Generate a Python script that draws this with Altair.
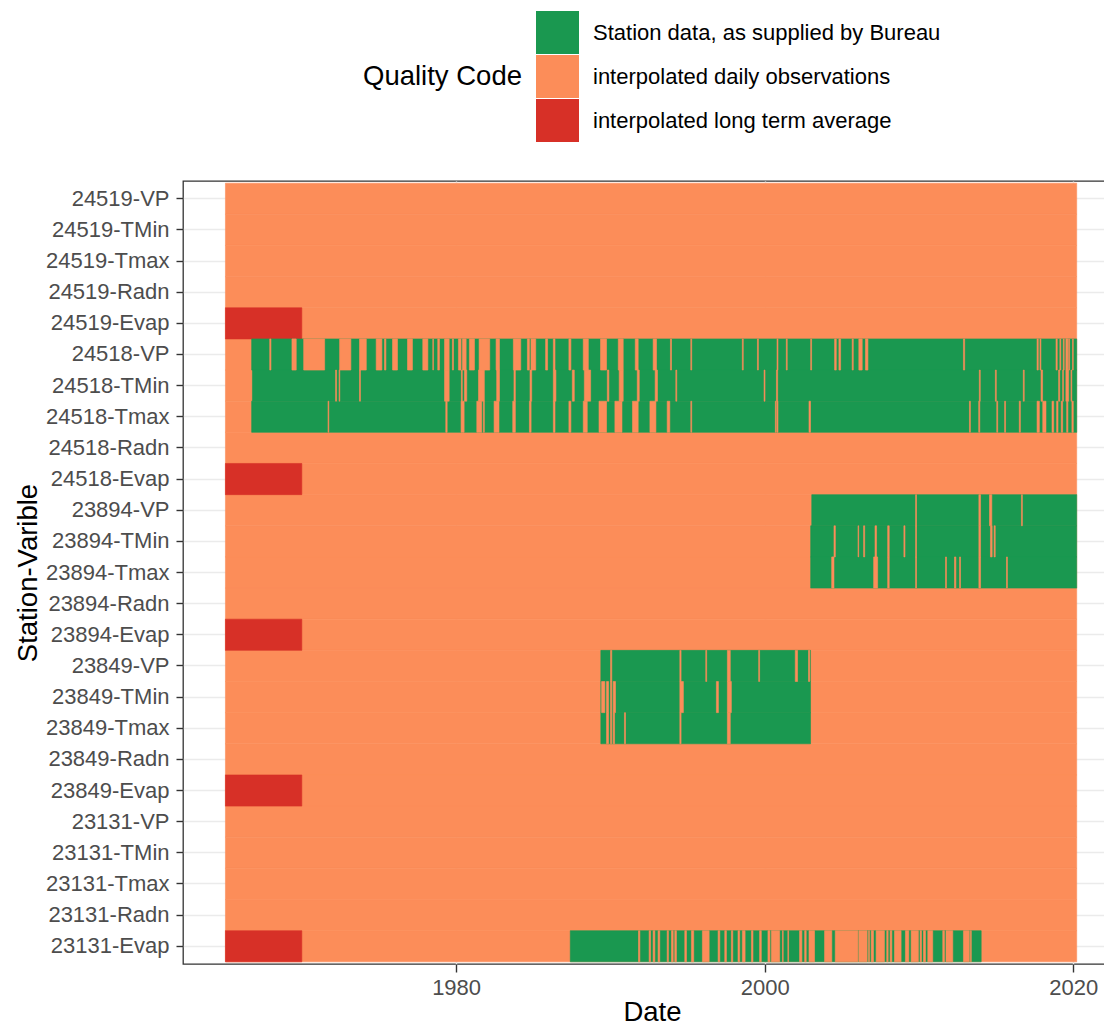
import altair as alt
import pandas as pd

STATIONS = ["24519", "24518", "23894", "23849", "23131"]
VARIABLES = ["VP", "TMin", "Tmax", "Radn", "Evap"]
ROWS = [f"{s}-{v}" for s in STATIONS for v in VARIABLES]

QUALITY = [
    "Station data, as supplied by Bureau",
    "interpolated daily observations",
    "interpolated long term average",
]
COLORS = ["#1A9850", "#FC8D59", "#D73027"]

RECORD_START = 1965.05
RECORD_END = 2020.22
LTA_END = 1970.0
EVAP_ROWS = [f"{s}-Evap" for s in STATIONS]

GREEN_SPANS = {
    "24518-VP": (1966.75, 2020.22),
    "24518-TMin": (1966.80, 2020.22),
    "24518-Tmax": (1966.75, 2020.22),
    "23894-VP": (2003.05, 2020.22),
    "23894-TMin": (2002.98, 2020.22),
    "23894-Tmax": (2002.98, 2020.22),
    "23849-VP": (1989.38, 2002.97),
    "23849-TMin": (1989.38, 2002.97),
    "23849-Tmax": (1989.38, 2002.97),
    "23131-Evap": (1987.40, 2014.03),
}

GAPS_24518_VP = [
    (1967.92, 1968.00), (1969.36, 1969.64), (1970.12, 1971.48), (1972.45, 1973.18),
    (1973.74, 1974.18), (1974.82, 1975.19), (1975.36, 1975.45), (1975.88, 1976.20),
    (1976.85, 1977.17), (1977.84, 1978.17), (1978.49, 1978.53), (1978.81, 1978.92),
    (1979.25, 1979.55), (1979.76, 1979.83), (1980.15, 1980.32), (1980.41, 1980.65),
    (1980.86, 1981.19), (1981.49, 1982.18), (1982.59, 1982.81), (1983.71, 1984.19),
    (1984.62, 1984.75), (1984.85, 1985.16), (1985.80, 1985.93), (1986.30, 1986.41),
    (1987.31, 1987.44), (1988.24, 1988.57), (1989.36, 1989.75), (1990.51, 1990.83),
    (1991.61, 1991.80), (1992.77, 1992.99), (1993.89, 1993.96), (1995.21, 1995.27),
    (1998.55, 1998.61), (1999.53, 1999.59), (2000.80, 2000.86), (2001.40, 2001.46),
    (2002.98, 2003.04), (2004.53, 2004.64), (2004.81, 2004.92), (2005.67, 2005.74),
    (2006.10, 2006.32), (2006.53, 2006.69), (2012.88, 2012.96), (2017.65, 2017.73),
    (2017.84, 2017.90), (2018.88, 2018.96), (2019.13, 2019.19), (2019.35, 2019.41),
    (2019.52, 2019.65), (2019.70, 2019.76), (2019.95, 2020.00),
]
GAPS_24518_TMIN = [
    (1972.19, 1972.25), (1972.42, 1972.46), (1973.74, 1973.80), (1979.25, 1979.55),
    (1980.34, 1980.40), (1980.54, 1980.69), (1981.45, 1981.83), (1982.63, 1982.81),
    (1983.75, 1983.84), (1984.79, 1984.90), (1986.30, 1986.47), (1987.53, 1987.66),
    (1988.31, 1988.72), (1989.80, 1989.90), (1990.57, 1990.83), (1991.74, 1991.87),
    (1992.90, 1993.05), (1994.24, 1994.30), (1999.96, 2000.02), (2000.76, 2000.84),
    (2013.91, 2013.97), (2014.95, 2015.01), (2016.76, 2016.82), (2017.91, 2018.01),
    (2019.05, 2019.12), (2019.31, 2019.36), (2019.52, 2019.70), (2019.85, 2019.90),
]
GAPS_24518_TMAX = [
    (1971.70, 1971.75), (1979.33, 1979.42), (1980.32, 1980.52), (1981.34, 1981.66),
    (1981.77, 1981.83), (1982.46, 1982.78), (1983.67, 1983.84), (1984.75, 1984.86),
    (1986.30, 1986.41), (1987.31, 1987.44), (1988.24, 1988.50), (1989.26, 1989.75),
    (1990.29, 1990.75), (1991.43, 1991.80), (1992.56, 1992.95), (1993.68, 1993.85),
    (1995.21, 1995.27), (2000.69, 2000.75), (2000.80, 2000.86), (2002.87, 2002.97),
    (2013.27, 2013.33), (2013.87, 2013.94), (2015.04, 2015.10), (2015.55, 2015.61),
    (2016.50, 2016.57), (2017.65, 2017.80), (2018.02, 2018.23), (2018.62, 2018.73),
    (2018.92, 2019.01), (2019.22, 2019.31), (2019.57, 2019.65), (2019.91, 2020.00),
]
GAPS_23894_VP = [
    (2009.78, 2009.84), (2013.88, 2013.99), (2014.57, 2014.72), (2016.64, 2016.70),
]
GAPS_23894_TMIN = [
    (2004.49, 2004.58), (2006.05, 2006.09), (2006.41, 2006.48), (2007.15, 2007.25),
    (2007.97, 2008.07), (2009.02, 2009.09), (2009.78, 2009.84), (2013.88, 2013.99),
    (2014.63, 2014.74), (2014.87, 2014.94),
]
GAPS_23894_TMAX = [
    (2004.34, 2004.49), (2007.06, 2007.32), (2007.97, 2008.07), (2009.78, 2009.84),
    (2011.72, 2011.78), (2012.30, 2012.39), (2012.63, 2012.69), (2013.88, 2013.99),
    (2015.67, 2015.73),
]
GAPS_23849_VP = [
    (1990.01, 1990.09), (1994.50, 1994.58), (1996.18, 1996.24), (1997.58, 1997.77),
    (1999.61, 1999.67), (2001.98, 2002.13), (2002.84, 2002.92),
]
GAPS_23849_TMIN = [
    (1989.43, 1989.64), (1989.75, 1989.88), (1990.01, 1990.09), (1990.18, 1990.33),
    (1994.50, 1994.73), (1996.87, 1997.00), (1997.58, 1997.84),
]
GAPS_23849_TMAX = [
    (1989.75, 1989.88), (1990.01, 1990.09), (1990.18, 1990.27), (1990.91, 1990.98),
    (1994.50, 1994.58), (1997.58, 1997.77),
]
GAPS_23131_EVAP = [
    (1991.82, 1991.91), (1992.51, 1992.60), (1992.77, 1992.88), (1993.09, 1993.20),
    (1993.68, 1993.76), (1993.96, 1994.07), (1994.17, 1994.28), (1994.82, 1994.93),
    (1995.25, 1995.40), (1995.96, 1996.40), (1996.98, 1997.09), (1997.41, 1997.52),
    (1997.84, 1997.93), (1998.27, 1998.38), (1998.55, 1998.73), (1999.14, 1999.24),
    (1999.67, 1999.78), (2000.21, 2000.34), (2000.43, 2000.97), (2001.15, 2001.20),
    (2001.50, 2001.55), (2002.26, 2002.41), (2002.59, 2002.69), (2002.87, 2003.23),
    (2003.88, 2004.35), (2004.57, 2006.04), (2006.10, 2006.64), (2006.73, 2006.79),
    (2006.90, 2007.05), (2007.22, 2007.76), (2007.91, 2008.00), (2008.13, 2008.24),
    (2008.41, 2008.84), (2009.12, 2009.34), (2009.49, 2009.96), (2010.07, 2010.16),
    (2010.29, 2010.42), (2010.57, 2010.89), (2011.54, 2011.65), (2011.75, 2012.19),
    (2012.88, 2013.26), (2013.33, 2013.39),
]

GAPS = {
    "24518-VP": GAPS_24518_VP,
    "24518-TMin": GAPS_24518_TMIN,
    "24518-Tmax": GAPS_24518_TMAX,
    "23894-VP": GAPS_23894_VP,
    "23894-TMin": GAPS_23894_TMIN,
    "23894-Tmax": GAPS_23894_TMAX,
    "23849-VP": GAPS_23849_VP,
    "23849-TMin": GAPS_23849_TMIN,
    "23849-Tmax": GAPS_23849_TMAX,
    "23131-Evap": GAPS_23131_EVAP,
}

records = []
for r in ROWS:
    records.append(dict(row=r, start=RECORD_START, end=RECORD_END, quality=QUALITY[1]))
for r in EVAP_ROWS:
    records.append(dict(row=r, start=RECORD_START, end=LTA_END, quality=QUALITY[2]))
for r, (a, b) in GREEN_SPANS.items():
    records.append(dict(row=r, start=a, end=b, quality=QUALITY[0]))
for r, gaps in GAPS.items():
    for a, b in gaps:
        records.append(dict(row=r, start=a, end=b, quality=QUALITY[1]))
df = pd.DataFrame(records)

FONT = "Liberation Sans"
PLOT_W, PLOT_H = 921, 783

color_scale = alt.Scale(domain=QUALITY, range=COLORS)

chart = alt.Chart(df).mark_bar(strokeWidth=0.6).encode(
    x=alt.X(
        "start:Q",
        title="Date",
        scale=alt.Scale(domain=[1962.3, 2021.99], nice=False, zero=False),
        axis=alt.Axis(
            values=[1980, 2000, 2020], format="d",
            labelFont=FONT, labelFontSize=22, labelColor="#4D4D4D", labelPadding=5,
            labelFlush=False,
            tickSize=8, tickColor="#333333", tickWidth=1.4,
            domain=False, grid=True, gridColor="#EBEBEB", gridWidth=1.4,
            titleFont=FONT, titleFontSize=27.5, titleFontWeight="normal", titleColor="black",
            titleX=469, titleY=56, titleBaseline="alphabetic", titleAlign="center",
        ),
    ),
    x2="end:Q",
    y=alt.Y(
        "row:N",
        sort=ROWS,
        title="Station-Varible",
        scale=alt.Scale(paddingInner=0, paddingOuter=0.07),
        axis=alt.Axis(
            labelFont=FONT, labelFontSize=22, labelColor="#4D4D4D", labelPadding=7,
            labelLimit=400, labelOverlap=False,
            tickSize=7, tickColor="#333333", tickWidth=1.4,
            domain=False, grid=True, gridColor="#EBEBEB", gridWidth=1.4,
            titleFont=FONT, titleFontSize=27.5, titleFontWeight="normal", titleColor="black",
            titleAngle=270, titleX=-147, titleY=PLOT_H / 2,
            titleBaseline="alphabetic", titleAlign="center",
        ),
    ),
    fill=alt.Fill(
        "quality:N",
        scale=color_scale,
        legend=alt.Legend(
            title="Quality Code",
            orient="none", legendX=180, legendY=-170, direction="vertical",
            titleOrient="left", titleAnchor="middle", titleBaseline="middle",
            titlePadding=14, titleFont=FONT, titleFontSize=27.5,
            titleFontWeight="normal", titleColor="black",
            labelFont=FONT, labelFontSize=22, labelColor="black",
            labelLimit=600, labelOffset=14,
            symbolType="square", symbolSize=1849, symbolStrokeWidth=0,
            symbolOpacity=1, rowPadding=1, padding=0, offset=0,
        ),
    ),
    stroke=alt.Stroke("quality:N", scale=color_scale, legend=None),
).properties(
    width=PLOT_W,
    height=PLOT_H,
    autosize=alt.AutoSizeParams(type="none"),
    padding={"left": 175, "top": 173, "right": 0, "bottom": 62},
).configure(
    font=FONT,
).configure_view(
    stroke="#333333", strokeWidth=1.3, fill="white",
    # top edge, skip the right edge (the panel runs on past the picture), then bottom + left
    strokeDash=[PLOT_W, PLOT_H, PLOT_W + PLOT_H, 0],
)

chart.save("out.html", embed_options={"renderer": "svg", "actions": False})
